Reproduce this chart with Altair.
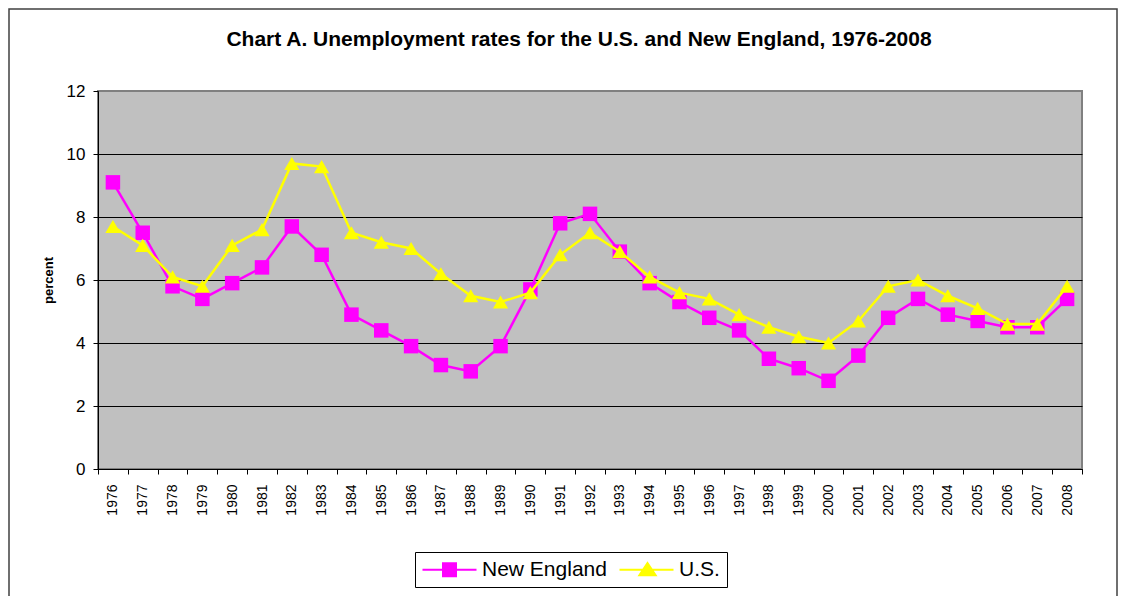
import altair as alt
import pandas as pd

years = [str(y) for y in range(1976, 2009)]
new_england = [9.1, 7.5, 5.8, 5.4, 5.9, 6.4, 7.7, 6.8, 4.9, 4.4, 3.9, 3.3, 3.1, 3.9, 5.7,
               7.8, 8.1, 6.9, 5.9, 5.3, 4.8, 4.4, 3.5, 3.2, 2.8, 3.6, 4.8, 5.4, 4.9, 4.7,
               4.5, 4.5, 5.4]
us = [7.7, 7.1, 6.1, 5.8, 7.1, 7.6, 9.7, 9.6, 7.5, 7.2, 7.0, 6.2, 5.5, 5.3, 5.6,
      6.8, 7.5, 6.9, 6.1, 5.6, 5.4, 4.9, 4.5, 4.2, 4.0, 4.7, 5.8, 6.0, 5.5, 5.1,
      4.6, 4.6, 5.8]
series_names = ["New England", "U.S."]
series_colors = ["#FF00FF", "#FFFF00"]
y_ticks = [0, 2, 4, 6, 8, 10, 12]
title_text = "Chart A. Unemployment rates for the U.S. and New England, 1976-2008"

rows = []
for y, a, b in zip(years, new_england, us):
    rows.append({"year": y, "series": "New England", "value": a})
    rows.append({"year": y, "series": "U.S.", "value": b})
df = pd.DataFrame(rows)

FONT = "Liberation Sans"

x_enc = alt.X(
    "year:O",
    sort=years,
    scale=alt.Scale(type="band", paddingInner=0, paddingOuter=0),
    bandPosition=0.5,
    axis=alt.Axis(
        title=None, labelAngle=270, labelFontSize=14, labelFont=FONT, labelColor="black",
        tickSize=5, tickColor="black", domainColor="black", tickBand="extent",
        grid=False, labelPadding=10,
    ),
)
y_enc = alt.Y(
    "value:Q",
    scale=alt.Scale(domain=[0, 12], nice=False),
    axis=alt.Axis(
        values=y_ticks, title="percent", titleFontSize=13, titleFontWeight="bold",
        titleFont=FONT, titleColor="black", titlePadding=11,
        labelFontSize=17, labelFont=FONT, labelColor="black", labelPadding=8,
        tickSize=5, tickColor="black", domainColor="black",
        grid=True,
        gridColor={"condition": {"test": "datum.value === 12", "value": "#808080"}, "value": "black"},
        gridWidth=1,
    ),
)

base = alt.Chart(df)

ne_line = base.transform_filter(alt.datum.series == "New England").mark_line(
    color=series_colors[0], strokeWidth=2.5).encode(x=x_enc, y=y_enc)
ne_pts = base.transform_filter(alt.datum.series == "New England").mark_point(
    shape="square", filled=True, size=210, opacity=1, color=series_colors[0]).encode(x=x_enc, y=y_enc)
us_line = base.transform_filter(alt.datum.series == "U.S.").mark_line(
    color=series_colors[1], strokeWidth=2.5).encode(x=x_enc, y=y_enc)
us_pts = base.transform_filter(alt.datum.series == "U.S.").mark_point(
    shape="triangle-up", filled=True, size=230, opacity=1, color=series_colors[1]).encode(x=x_enc, y=y_enc)

# legend symbols: line segment with the series marker in its middle
ne_path = "M-1,-0.1H4.4V0.1H-1Z M0.95,-0.75H2.45V0.75H0.95Z"
us_path = "M-1,-0.1H4.4V0.1H-1Z M1.8,-0.85L2.8,0.65H0.8Z"

leg = alt.Legend(
    orient="none", legendX=317, legendY=461, direction="horizontal", title=None,
    strokeColor="black", fillColor="white", padding=7,
    labelFontSize=21, labelFont=FONT, labelColor="black",
    symbolSize=400, symbolStrokeWidth=0, symbolOpacity=1,
    labelOffset=39, columnPadding=12,
)
legend_layer = base.transform_filter("datum.value < 0").mark_point(filled=True, opacity=1).encode(
    x=x_enc, y=y_enc,
    shape=alt.Shape("series:N", scale=alt.Scale(domain=series_names, range=[ne_path, us_path]), legend=leg),
    color=alt.Color("series:N", scale=alt.Scale(domain=series_names, range=series_colors), legend=leg),
)

border = alt.Chart(pd.DataFrame({"a": [0]})).mark_rect(
    fillOpacity=0, stroke="#404040", strokeWidth=1.5
).encode(x=alt.value(-89), x2=alt.value(1019), y=alt.value(-82), y2=alt.value(520))

chart = alt.layer(border, ne_line, ne_pts, us_line, us_pts, legend_layer).properties(
    width=984, height=378,
    padding={"left": 90, "top": 83, "right": 37, "bottom": 127},
    autosize=alt.AutoSizeParams(type="none"),
    title=alt.TitleParams(title_text, fontSize=21, font=FONT, fontWeight="bold",
                          anchor="middle", dx=-11, offset=-42, color="black"),
).configure_view(
    fill="#C0C0C0", stroke="#808080", strokeWidth=2
)

chart.save("out.html", embed_options={"renderer": "svg", "actions": False})
